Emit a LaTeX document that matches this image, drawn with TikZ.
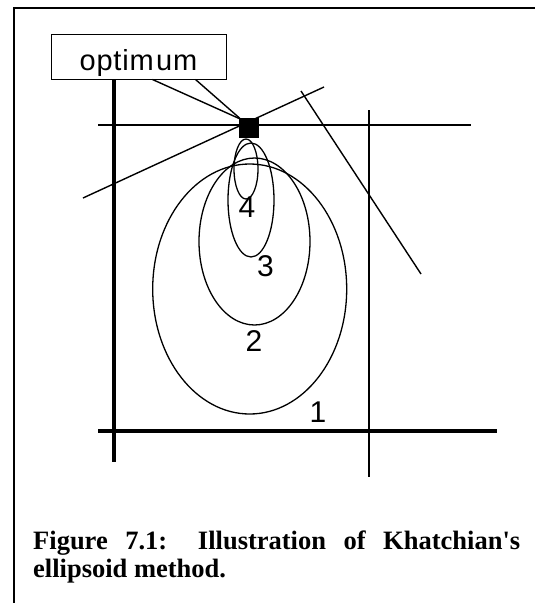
\documentclass[tikz,border=0pt]{standalone}
\usepackage{fontspec}
\newfontfamily\sansf{Liberation Sans}
\newfontfamily\capfont{Liberation Serif}
\tikzset{
  thinline/.style={line width=1.4pt, line cap=butt},
  thickline/.style={line width=3.8pt},
  frameline/.style={line width=2.4pt},
  ell/.style={line width=1.3pt},
  numlbl/.style={font=\sansf\fontsize{30}{30}\selectfont, inner sep=0pt, anchor=base},
}
\begin{document}
\begin{tikzpicture}[x=1pt,y=-1pt]
\useasboundingbox (0,0) rectangle (535,603);
% frame
\draw[frameline] (13.8,603) -- (13.8,7.8) -- (535,7.8);
% optimum box
\node[draw, line width=1pt, minimum width=175pt, minimum height=45pt, inner sep=0pt,
      text height=28pt, text depth=0pt, font=\sansf\fontsize{29}{29}\selectfont]
  (opt) at (138.5,56.5) {o\kern0.8pt p\kern0.8pt t\kern0.8pt i\kern0.8pt m\kern2.5pt u\kern0.8pt m};
% axes
\coordinate (vt) at (114,80);
\coordinate (vb) at (114,462);
\coordinate (hl) at (98,431);
\coordinate (hr) at (497,431);
\draw[thickline] (vt) -- (vb);
\draw[thickline] (hl) -- (hr);
% thin lines
\coordinate (tl) at (98,125);
\coordinate (tr) at (471,125);
\coordinate (vt2) at (369,110);
\coordinate (vb2) at (369,477);
\coordinate (c1) at (83,198);
\coordinate (c2) at (324,87);
\coordinate (d1) at (301,91);
\coordinate (d2) at (421,274);
\draw[thinline] (tl) -- (tr);
\draw[thinline] (vt2) -- (vb2);
\draw[thinline] (c1) -- (c2);
\draw[thinline] (d1) -- (d2);
% ellipses
\draw[ell] (249.7,289) ellipse [x radius=97, y radius=125];
\draw[ell] (254.5,241.5) ellipse [x radius=55.5, y radius=83.5];
\draw[ell] (251,200) ellipse [x radius=23, y radius=57];
\draw[ell] (246,169) ellipse [x radius=12, y radius=30];
% optimum point
\node[fill=black, minimum size=20pt, inner sep=0pt] (sq) at (249,127.5) {};
\draw[thinline] ([xshift=102pt]opt.south west) -- ([xshift=1pt,yshift=-1.5pt]sq.north west);
\draw[thinline] ([xshift=145pt]opt.south west) -- ([xshift=1pt,yshift=-1pt]sq.north west);
% labels
\node[numlbl] (n4) at (247,217.5) {4};
\node[numlbl] (n3) at (265.5,276.5) {3};
\node[numlbl] (n2) at (254,351.5) {2};
\node[numlbl] (n1) at (318,422.5) {1};
% caption
\node[anchor=base west, inner sep=0pt] (cap) at (33,549)
  {\parbox[t]{487pt}{\capfont\bfseries\fontsize{26.5}{28.5}\selectfont
   \hyphenpenalty=10000 \tolerance=10000 \parindent=0pt
   Figure 7.1: Illustration of Khatchian's ellipsoid method.}};
\end{tikzpicture}
\end{document}
